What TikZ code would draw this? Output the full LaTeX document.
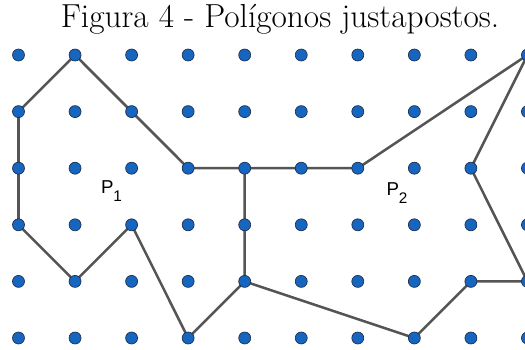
\documentclass[tikz,border=0pt]{standalone}
\usepackage{fontspec}
\newfontfamily\labelfont{Liberation Sans}
\usetikzlibrary{backgrounds}
\definecolor{dotblue}{RGB}{22,102,192}
\definecolor{dotrim}{RGB}{30,45,75}
\definecolor{edgegray}{RGB}{85,85,85}

\begin{document}
\begin{tikzpicture}[x=0.75pt,y=-0.75pt,
  pin/.style  = {circle, draw=dotrim, fill=dotblue, inner sep=0pt,
                 minimum size=9pt, line width=0.5pt},
  edge/.style = {draw=edgegray, line width=1.9pt, line join=round},
  tag/.style  = {font=\labelfont\fontsize{14}{16}\selectfont, inner sep=0pt}
]
\useasboundingbox (0,0) rectangle (525,350);

\node[anchor=base, font=\fontsize{25}{30}\selectfont, inner sep=0pt] (title) at (280,27)
     {Figura 4 - Polígonos justapostos.};

% pontos da malha
\foreach \i in {0,...,9}
  \foreach \j in {0,...,5}
    \node[pin] (d-\i-\j) at ({18.5+56.55*\i},{55+56.6*\j}) {};

% contornos dos dois poligonos
\begin{scope}[on background layer]
\draw[edge] (d-1-0.center) -- (d-2-1.center) -- (d-3-2.center) -- (d-4-2.center)
      -- (d-4-4.center) -- (d-3-5.center) -- (d-2-3.center) -- (d-1-4.center)
      -- (d-0-3.center) -- (d-0-1.center) -- cycle;
\draw[edge] (d-4-2.center) -- (d-6-2.center) -- (d-9-0.center) -- (d-8-2.center)
      -- (d-9-4.center) -- (d-8-4.center) -- (d-7-5.center) -- (d-4-4.center);
\end{scope}

\node[tag] (p1) at (111.5,191) {P\raisebox{-6pt}{\fontsize{11.5}{12}\selectfont 1}};
\node[tag] (p2) at (397,193) {P\raisebox{-6pt}{\fontsize{11.5}{12}\selectfont 2}};

\end{tikzpicture}
\end{document}
